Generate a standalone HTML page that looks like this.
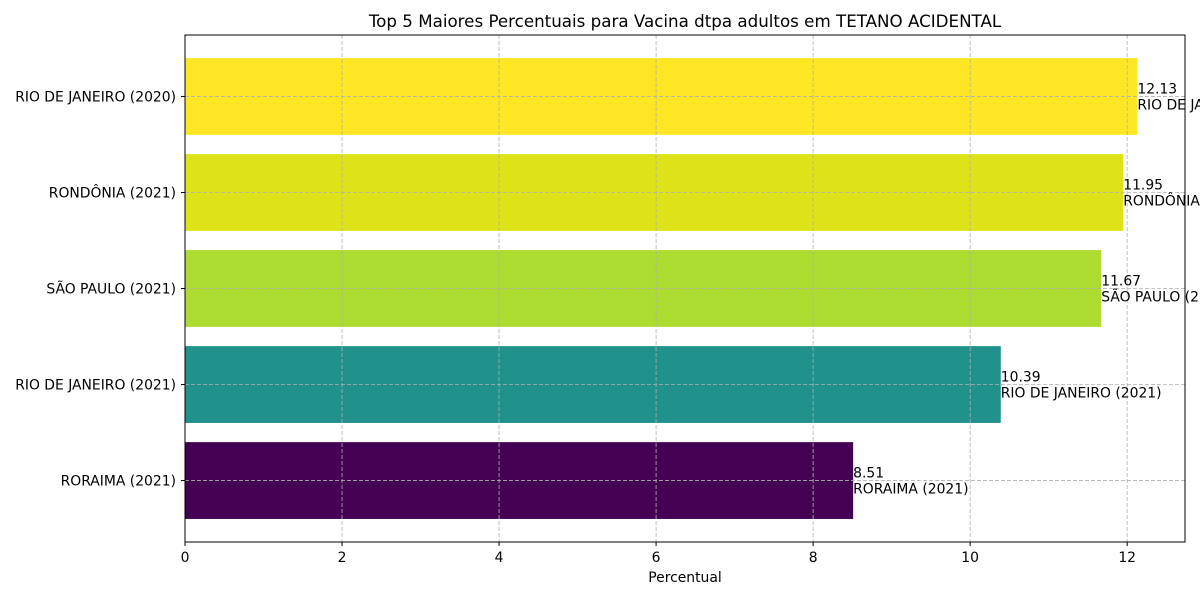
<!DOCTYPE html>
<html><head><meta charset="utf-8"><style>
body{margin:0;background:#fff;}
svg{display:block;font-family:"DejaVu Sans","Liberation Sans",sans-serif;}
</style></head><body>
<svg id="chart" width="1200" height="600" viewBox="0 0 1200 600" xmlns="http://www.w3.org/2000/svg">
<rect width="1200" height="600" fill="#fff"/>
<text x="685" y="27" text-anchor="middle" font-size="16.7">Top 5 Maiores Percentuais para Vacina dtpa adultos em TETANO ACIDENTAL</text>
<g id="bars"></g><g id="grid"></g><g id="labels"></g><g id="axes"></g>
</svg>
<script>
const categories = ["RIO DE JANEIRO (2020)","RONDÔNIA (2021)","SÃO PAULO (2021)","RIO DE JANEIRO (2021)","RORAIMA (2021)"];
const values = [12.13, 11.95, 11.67, 10.39, 8.51];
const colors = ["#fde725","#dde318","#addc30","#21918c","#440154"];
const xTicks = [0,2,4,6,8,10,12];
const NS="http://www.w3.org/2000/svg";
const L=185,R=1185,T=35,B=542;
const FS=13.9;
const xMax=Math.max(...values)*1.05;
const xs=v=>L+v/xMax*(R-L);
const n=categories.length;
const span=(n-1)+0.8, pad=span*0.05;
const yLo=-0.4-pad, yHi=n-1+0.4+pad;
const yc=i=>T+(i-yLo)/(yHi-yLo)*(B-T);
const unit=(B-T)/(yHi-yLo);
function mk(tag,attrs,parent,txt){const e=document.createElementNS(NS,tag);for(const k in attrs)e.setAttribute(k,attrs[k]);if(txt!==undefined)e.textContent=txt;document.getElementById(parent).appendChild(e);return e;}
values.forEach((v,i)=>{
  const r=mk('rect',{x:L,y:yc(i)-unit*0.4,width:xs(v)-L,height:unit*0.8,fill:colors[i]},'bars');
  
  
  const t=mk('text',{x:xs(v),y:yc(i)-3,'font-size':FS},'labels',v.toFixed(2));
  
  
  const c=mk('text',{x:xs(v),y:yc(i)+13,'font-size':FS},'labels',categories[i]);
  
  
  const g=mk('line',{x1:L,x2:R,y1:yc(i),y2:yc(i),stroke:'#b0b0b0','stroke-dasharray':'4,2','stroke-width':0.8},'grid');
  
  
  mk('line',{x1:L-4,x2:L,y1:yc(i),y2:yc(i),stroke:'#000'},'axes');
  const yl=mk('text',{x:L-9,y:yc(i)+5,'font-size':FS,'text-anchor':'end'},'axes',categories[i]);
  
  
});
xTicks.forEach(t=>{
  const g=mk('line',{x1:xs(t),x2:xs(t),y1:T,y2:B,stroke:'#b0b0b0','stroke-dasharray':'4,2','stroke-width':0.8},'grid');
  
  
  mk('line',{x1:xs(t),x2:xs(t),y1:B,y2:B+4,stroke:'#000'},'axes');
  const xl=mk('text',{x:xs(t),y:B+20,'font-size':FS,'text-anchor':'middle'},'axes',String(t));
  
  
});
const fr=mk('rect',{x:L,y:T,width:R-L,height:B-T,fill:'none',stroke:'#000','stroke-width':1},'axes');


const xt=mk('text',{x:(L+R)/2,y:582,'font-size':FS,'text-anchor':'middle'},'axes','Percentual');


</script>
</body></html>
